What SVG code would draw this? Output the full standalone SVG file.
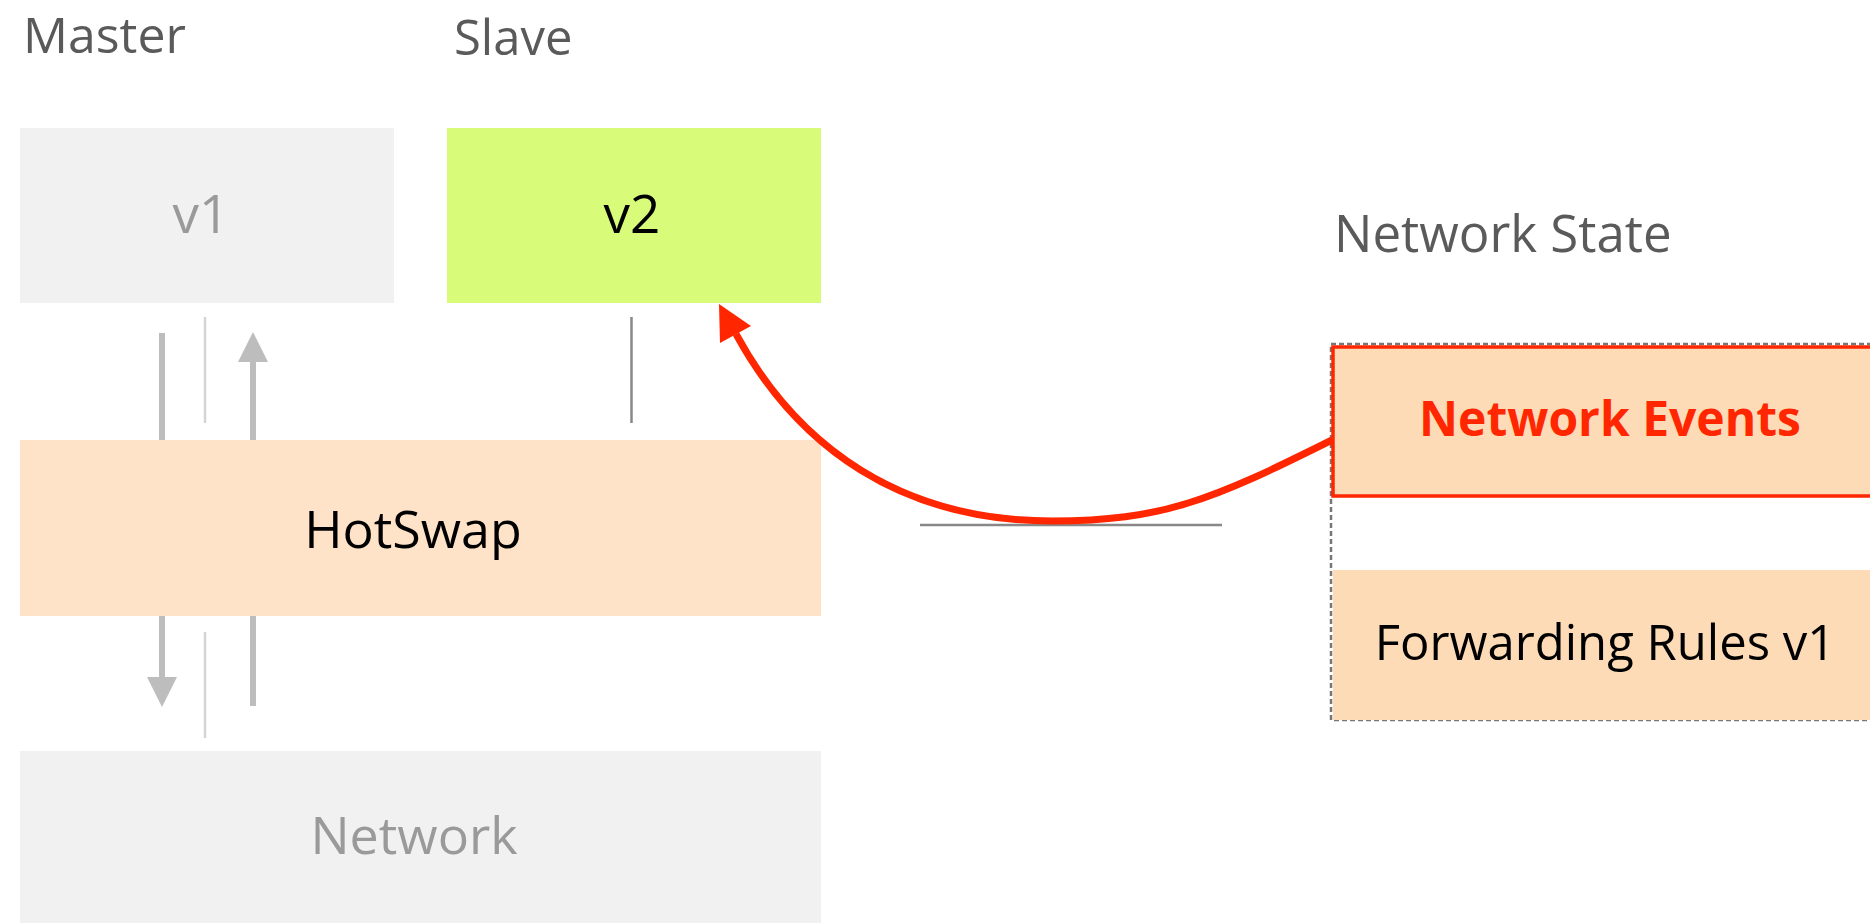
<svg xmlns="http://www.w3.org/2000/svg" width="1870" height="923" viewBox="0 0 1870 923">
<style>
text{font-family:"Open Sans","DejaVu Sans",sans-serif}
.hdr{fill:#5a5a5a}
.dim{fill:#9a9a9a}
.blk{fill:#000}
.grey{fill:#f1f1f1}
.peach{fill:#fee3c9}
.state{fill:#fddbb6}
.thick{stroke:#bdbdbd;stroke-width:6;fill:none}
.thin{stroke:#d4d4d4;stroke-width:2.5;fill:none}
.dark{stroke:#888;stroke-width:2.5;fill:none}
</style>
<rect width="1870" height="923" fill="#fff"/>
<g id="labels">
<text class="hdr" x="23" y="53" font-size="50">Master</text>
<text class="hdr" x="454" y="55" font-size="49">Slave</text>
<text class="hdr" x="1334" y="252" font-size="51">Network State</text>
</g>
<g id="connectors">
<line class="thick" x1="162" y1="333" x2="162" y2="679"/>
<polygon points="147,677 177,677 162,707" fill="#bdbdbd"/>
<line class="thick" x1="253" y1="706" x2="253" y2="360"/>
<polygon points="238,362 268,362 253,332" fill="#bdbdbd"/>
<line class="thin" x1="205" y1="317" x2="205" y2="423"/>
<line class="thin" x1="205" y1="632" x2="205" y2="738"/>
<line class="dark" x1="631.5" y1="317" x2="631.5" y2="423" stroke-width="2"/>
<line class="dark" x1="920" y1="525" x2="1222" y2="525"/>
</g>
<g id="node-v1">
<rect class="grey" x="20" y="128" width="374" height="175"/>
<text class="dim" x="201" y="233" font-size="53" text-anchor="middle">v1</text>
</g>
<g id="node-v2">
<rect x="447" y="128" width="374" height="175" fill="#d8fb7a"/>
<text class="blk" x="632" y="233" font-size="53" text-anchor="middle">v2</text>
</g>
<g id="node-hotswap">
<rect class="peach" x="20" y="440" width="801" height="176"/>
<text class="blk" x="413" y="548" font-size="52" text-anchor="middle">HotSwap</text>
</g>
<g id="node-network">
<rect class="grey" x="20" y="751" width="801" height="172"/>
<text class="dim" x="414" y="854" font-size="52" text-anchor="middle">Network</text>
</g>
<g id="node-network-state">
<rect x="1331" y="344" width="600" height="376" fill="none" stroke="#777" stroke-width="2.5" stroke-dasharray="5 3"/>
</g>
<g id="node-network-events">
<rect class="state" x="1333" y="347" width="600" height="149" stroke="#ff2600" stroke-width="3.5"/>
<text x="1610" y="436" font-size="48" font-weight="bold" fill="#ff2600" text-anchor="middle">Network Events</text>
</g>
<g id="node-forwarding">
<rect class="state" x="1333" y="570" width="600" height="150"/>
<text class="blk" x="1605" y="660" font-size="49" text-anchor="middle">Forwarding Rules v1</text>
</g>
<g id="connector-events-v2">
<path d="M1332,440 C1212,500 1162,521 1052,521 C902,521 798,448 736,334" fill="none" stroke="#ff2600" stroke-width="7"/>
<polygon points="719,304 720,343 751,326" fill="#ff2600"/>
</g>
</svg>
